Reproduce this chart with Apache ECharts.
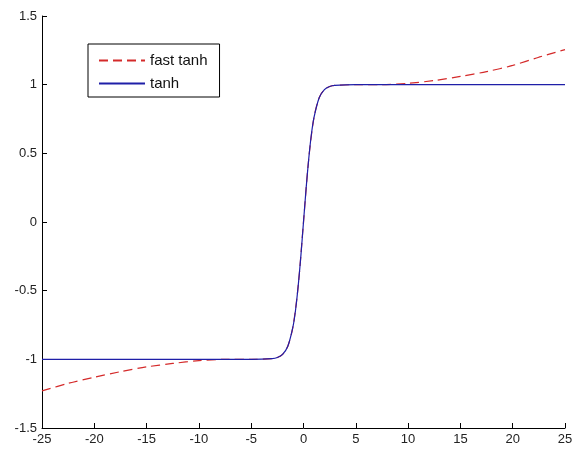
<!DOCTYPE html>
<html>
<head>
<meta charset="utf-8">
<script src="https://cdn.jsdelivr.net/npm/echarts@6/dist/echarts.min.js"></script>
<style>
  html, body { margin: 0; padding: 0; background: #fff; }
  #chart { width: 575px; height: 455px; }
</style>
</head>
<body>
<div id="chart"></div>
<script>
// values
var xFast = [-25, -22.5, -20, -17.5, -15, -12.5, -10, -7.5, -5, -3, -2.5, -2, -1.5, -1, -0.5, 0,
             0.5, 1, 1.5, 2, 2.5, 3, 5, 7.5, 10, 12.5, 15, 17.5, 20, 22.5, 25];
var yFast = [-1.23, -1.175, -1.13, -1.09, -1.055, -1.03, -1.01, -1.0, -1.0, -0.995, -0.987, -0.964, -0.905, -0.76, -0.46, 0,
             0.46, 0.76, 0.905, 0.964, 0.987, 0.995, 1.0, 1.0, 1.01, 1.03, 1.06, 1.095, 1.14, 1.2, 1.255];
var xTanh = [-25, -20, -15, -10, -5, -3, -2.5, -2, -1.5, -1, -0.75, -0.5, -0.25, 0,
             0.25, 0.5, 0.75, 1, 1.5, 2, 2.5, 3, 5, 10, 15, 20, 25];
var yTanh = [-1, -1, -1, -1, -1, -0.995, -0.987, -0.964, -0.905, -0.76, -0.635, -0.46, -0.245, 0,
             0.245, 0.46, 0.635, 0.76, 0.905, 0.964, 0.987, 0.995, 1, 1, 1, 1, 1];
var seriesNames = ["fast tanh", "tanh"];

function pairs(xs, ys) {
  var out = [];
  for (var i = 0; i < xs.length; i++) out.push([xs[i], ys[i]]);
  return out;
}

var chart = echarts.init(document.getElementById("chart"));
var labelFont = { color: "#222", fontSize: 13, fontFamily: "Liberation Sans, Arial, sans-serif" };

chart.setOption({
  animation: false,
  backgroundColor: "#fff",
  grid: { left: 42, right: 10, top: 16, bottom: 27, containLabel: false, outerBoundsMode: "none" },
  legend: {
    left: 88,
    top: 44,
    orient: "vertical",
    data: seriesNames,
    itemWidth: 46,
    itemHeight: 14,
    itemGap: 8,
    padding: [9, 12, 6, 10],
    borderColor: "#000",
    borderWidth: 1,
    backgroundColor: "#fff",
    itemStyle: { opacity: 0 },
    textStyle: { color: "#111", fontSize: 15, fontFamily: "Liberation Sans, Arial, sans-serif" }
  },
  xAxis: {
    type: "value",
    min: -25,
    max: 25,
    interval: 5,
    axisLine: { show: true, onZero: false, lineStyle: { color: "#000", width: 1 } },
    axisTick: { show: true, inside: true, length: 5, lineStyle: { color: "#000" } },
    axisLabel: Object.assign({ margin: 5, showMinLabel: true, showMaxLabel: true }, labelFont),
    splitLine: { show: false }
  },
  yAxis: {
    type: "value",
    min: -1.5,
    max: 1.5,
    interval: 0.5,
    axisLine: { show: true, onZero: false, lineStyle: { color: "#000", width: 1 } },
    axisTick: { show: true, inside: true, length: 5, lineStyle: { color: "#000" } },
    axisLabel: Object.assign({ margin: 5, showMinLabel: true, showMaxLabel: true }, labelFont),
    splitLine: { show: false }
  },
  series: [
    {
      name: seriesNames[0],
      type: "line",
      symbol: "none",
      smooth: 0.3,
      data: pairs(xFast, yFast),
      lineStyle: { color: "#d42a2a", width: 1.2, type: [9, 5] },
      itemStyle: { color: "#d42a2a" }
    },
    {
      name: seriesNames[1],
      type: "line",
      symbol: "none",
      smooth: 0.3,
      data: pairs(xTanh, yTanh),
      lineStyle: { color: "#1f1fa8", width: 1.2 },
      itemStyle: { color: "#1f1fa8" }
    }
  ]
});
</script>
</body>
</html>
